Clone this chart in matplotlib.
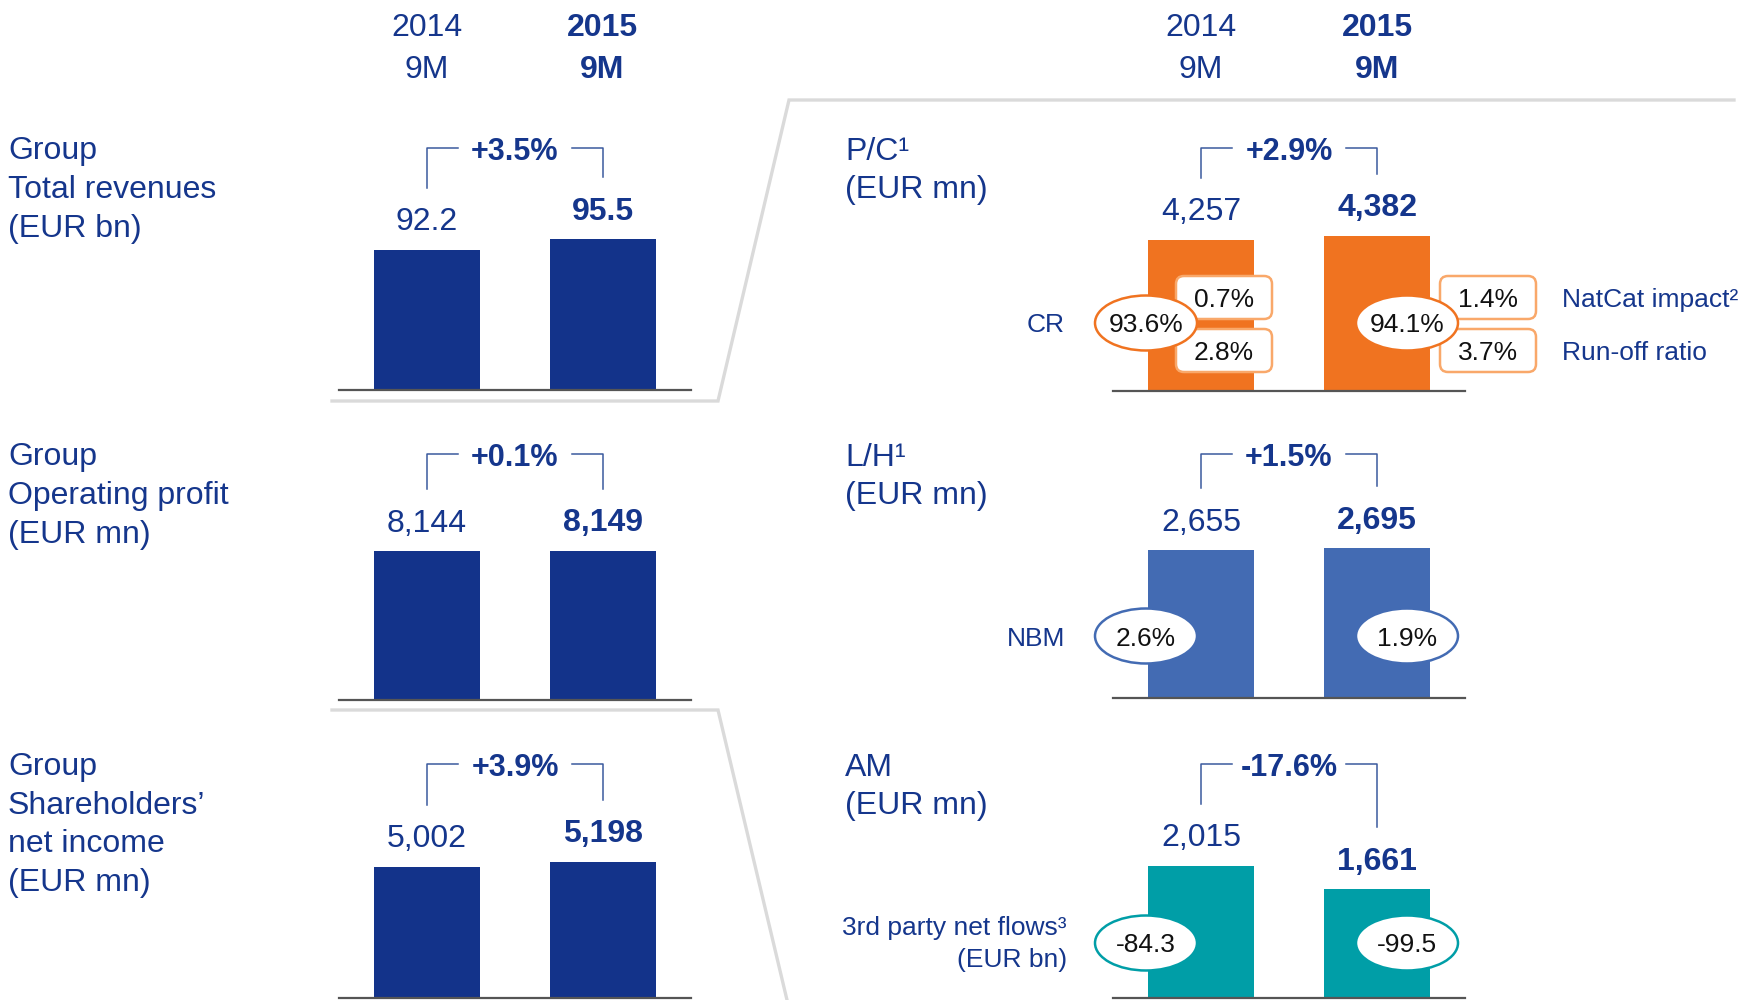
import matplotlib.pyplot as plt
from matplotlib.patches import Ellipse, FancyBboxPatch

plt.rcParams['font.family'] = ['Liberation Sans', 'DejaVu Sans']

# =====================================
# DATA
# =====================================

years = ["2014", "2015"]
period = "9M"

revenues = [92.2, 95.5]            # EUR bn
operating_profit = [8144, 8149]    # EUR mn
net_income = [5002, 5198]          # EUR mn
pc_revenues = [4257, 4382]
lh_revenues = [2655, 2695]
am_revenues = [2015, 1661]

growth = ["+3.5%", "+0.1%", "+3.9%", "+2.9%", "+1.5%", "-17.6%"]

combined_ratio = ["93.6%", "94.1%"]
natcat_impact = ["0.7%", "1.4%"]
runoff_ratio = ["2.8%", "3.7%"]
nbm = ["2.6%", "1.9%"]
third_party_flows = ["-84.3", "-99.5"]

left_titles = [
    ["Group", "Total revenues", "(EUR bn)"],
    ["Group", "Operating profit", "(EUR mn)"],
    ["Group", "Shareholders\u2019", "net income", "(EUR mn)"],
]
right_titles = [
    ["P/C\u00b9", "(EUR mn)"],
    ["L/H\u00b9", "(EUR mn)"],
    ["AM", "(EUR mn)"],
]

# =====================================
# STYLE
# =====================================

W, H = 1743, 1000
TXT = "#15368C"
NAVY = "#13338A"
ORANGE = "#F07320"
BOX_EDGE = "#F9A86A"
LH_BLUE = "#436BB3"
TEAL = "#009EA7"
GREY = "#DADADA"
BASE = "#555555"
BRACKET = "#3B5A9E"

fig = plt.figure(figsize=(W / 100, H / 100), dpi=100)

ov = fig.add_axes([0, 0, 1, 1], zorder=5)
ov.set_xlim(0, W)
ov.set_ylim(H, 0)
ov.axis("off")

# grey separators
ov.plot([1734, 789, 718, 332], [100, 100, 401, 401], color=GREY, lw=2.4,
        solid_joinstyle="miter", zorder=1)
ov.plot([332, 718, 787], [710, 710, 1000], color=GREY, lw=2.4,
        solid_joinstyle="miter", zorder=1)

# column headers
for cx in [(427, 602), (1201, 1377)]:
    for i, x in enumerate(cx):
        wt = "bold" if i == 1 else "normal"
        ov.text(x, 25, years[i], ha="center", va="center_baseline",
                fontsize=23, color=TXT, fontweight=wt)
        ov.text(x, 67, period, ha="center", va="center_baseline",
                fontsize=23, color=TXT, fontweight=wt)

# row titles
row_top = [148, 454, 764]
for r, lines in enumerate(left_titles):
    for k, s in enumerate(lines):
        ov.text(8, row_top[r] + k * 38.5, s, ha="left", va="center_baseline",
                fontsize=23, color=TXT)
for r, lines in enumerate(right_titles):
    for k, s in enumerate(lines):
        ov.text(845, row_top[r] + k * 38.5, s, ha="left", va="center_baseline",
                fontsize=23, color=TXT)

# =====================================
# BAR PANELS
# =====================================

panels = [
    # values, fmt, colour, left px, baseline px, ylim, row
    (revenues, "{:.1f}", NAVY, 339, 390, (50.2, 98.2), 0),
    (operating_profit, "{:,}", NAVY, 339, 700, (0, 8750), 1),
    (net_income, "{:,}", NAVY, 339, 998, (0, 6093), 2),
    (pc_revenues, "{:,}", ORANGE, 1113, 391, (0, 4509), 0),
    (lh_revenues, "{:,}", LH_BLUE, 1113, 698, (0, 2875), 1),
    (am_revenues, "{:,}", TEAL, 1113, 998, (0, 2442), 2),
]


def to_px(ax, x, y):
    dx, dy = ax.transData.transform((x, y))
    return dx, H - dy


for p, (vals, fmt, col, left, base, ylim, row) in enumerate(panels):
    ax = fig.add_axes([left / W, (H - base) / H, 352 / W, 160 / H])
    ax.set_xlim(-0.5, 1.5)
    ax.set_ylim(*ylim)
    ax.axis("off")
    ax.bar([0, 1], vals, width=0.604, color=col, linewidth=0)
    ax.axhline(ylim[0], color=BASE, lw=1.6, clip_on=False)

    for i, v in enumerate(vals):
        ax.annotate(fmt.format(v), (i, v), xytext=(0, 31),
                    textcoords="offset pixels", ha="center",
                    va="center_baseline", fontsize=23, color=TXT,
                    fontweight="bold" if i == 1 else "normal")

    # growth bracket
    xa, ya = to_px(ax, 0, vals[0])
    xb, yb = to_px(ax, 1, vals[1])
    yl = row_top[row]
    mid = (xa + xb) / 2
    ov.plot([xa, xa, mid - 57], [ya - 62, yl, yl], color=BRACKET, lw=1.1)
    ov.plot([mid + 57, xb, xb], [yl, yl, yb - 62], color=BRACKET, lw=1.1)
    ov.text(mid, yl, growth[p], ha="center", va="center_baseline",
            fontsize=22, fontweight="bold", color=TXT)

# =====================================
# KPI BUBBLES
# =====================================

ell_x = [1146, 1407]


def bubble(x, y, s, edge):
    ov.add_patch(Ellipse((x, y), 102, 55, facecolor="white", edgecolor=edge,
                         lw=1.8, zorder=4))
    ov.text(x, y, s, ha="center", va="center_baseline", fontsize=19,
            color="#111111", zorder=5)


def box(x, y, s):
    ov.add_patch(FancyBboxPatch((x, y), 96, 43,
                                boxstyle="round,pad=0,rounding_size=8",
                                facecolor="white", edgecolor=BOX_EDGE,
                                lw=1.8, zorder=3))
    ov.text(x + 48, y + 21.5, s, ha="center", va="center_baseline",
            fontsize=19, color="#111111", zorder=3.5)


box_x = [1176, 1440]
for i in range(2):
    box(box_x[i], 276, natcat_impact[i])
    box(box_x[i], 329, runoff_ratio[i])
    bubble(ell_x[i], 323, combined_ratio[i], ORANGE)
    bubble(ell_x[i], 636, nbm[i], LH_BLUE)
    bubble(ell_x[i], 943, third_party_flows[i], TEAL)

ov.text(1065, 323, "CR", ha="right", va="center_baseline", fontsize=19, color=TXT)
ov.text(1065, 636, "NBM", ha="right", va="center_baseline", fontsize=19, color=TXT)
ov.text(1067, 926, "3rd party net flows\u00b3", ha="right", va="center_baseline",
        fontsize=19, color=TXT)
ov.text(1067, 957, "(EUR bn)", ha="right", va="center_baseline",
        fontsize=19, color=TXT)
ov.text(1562, 297, "NatCat impact\u00b2", ha="left", va="center_baseline",
        fontsize=19, color=TXT)
ov.text(1562, 351, "Run-off ratio", ha="left", va="center_baseline",
        fontsize=19, color=TXT)

fig.savefig("out.png", dpi=100)
